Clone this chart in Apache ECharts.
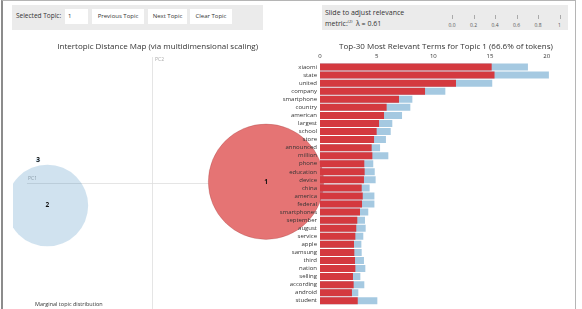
<!DOCTYPE html>
<html>
<head>
<meta charset="utf-8">
<script src="https://cdn.jsdelivr.net/npm/echarts@6/dist/echarts.min.js"></script>
<style>
  body { margin: 0; background: #fff; font-family: "Open Sans", sans-serif; color: #333; }
  #frame { position: absolute; left: 1px; top: 0; width: 575px; height: 320px;
    border-left: 2px solid #8c8c8c; border-top: 1px solid #b5b5b5; border-right: 1px solid #b5b5b5; box-sizing: border-box; }
  .box { position: absolute; top: 5px; height: 25px; background: #ebebeb; }
  .btn { position: absolute; top: 4px; height: 15px; background: #fff; font-size: 6px; line-height: 15px; text-align: center; }
  .tick { position: absolute; top: 10px; width: 1px; height: 4px; background: #aaa; }
  .tl { position: absolute; top: 17px; width: 20px; margin-left: -10px; text-align: center; font-size: 5px; color: #555; }
  #chart { position: absolute; left: 13px; top: 34px; width: 563px; height: 275px; }
</style>
</head>
<body>
<div id="frame"></div>
<div class="box" style="left:12px; width:251px;">
  <span style="position:absolute; left:4px; top:6px; font-size:6.5px; color:#333;">Selected Topic:</span>
  <div class="btn" style="left:53px; width:23px; text-align:left; padding-left:3px; box-sizing:border-box;">1</div>
  <div class="btn" style="left:80px; width:52px;">Previous Topic</div>
  <div class="btn" style="left:136px; width:39px;">Next Topic</div>
  <div class="btn" style="left:178px; width:42px;">Clear Topic</div>
</div>
<div class="box" id="slider" style="left:322px; width:246px;">
  <span style="position:absolute; left:3px; top:3px; font-size:7px; line-height:9px; color:#333;">Slide to adjust relevance<br>metric:<sup style="font-size:4px;">(2)</sup> &nbsp;λ = 0.61</span>
</div>
<div id="chart"></div>
<script>
// slider scale
const sliderTicks = ["0.0", "0.2", "0.4", "0.6", "0.8", "1"];
const slider = document.getElementById("slider");
sliderTicks.forEach((t, i) => {
  const x = 130 + i * 21.5;
  slider.insertAdjacentHTML("beforeend",
    `<div class="tick" style="left:${x}px"></div><div class="tl" style="left:${x}px">${t}</div>`);
});

// topics (MDS coordinates, share of tokens %)
const topicIds = ["1", "2", "3"];
const topicX = [0.811, -0.754, -0.821];
const topicY = [0.01, -0.179, 0.181];
const topicPct = [66.6, 33.3, 0.1];

// top-30 terms for topic 1
const terms = ["xiaomi", "state", "united", "company", "smartphone", "country", "american",
  "largest", "school", "store", "announced", "million", "phone", "education", "device",
  "china", "america", "federal", "smartphones", "september", "august", "service", "apple",
  "samsung", "third", "nation", "selling", "according", "android", "student"];
const topicFreq = [15.15, 15.4, 12.0, 9.27, 6.97, 5.88, 5.65, 5.21, 5.0, 4.77, 4.56, 4.62,
  3.91, 3.94, 3.88, 3.68, 3.77, 3.71, 3.53, 3.29, 3.2, 3.12, 3.0, 3.03, 3.09, 3.12,
  2.91, 2.97, 2.82, 3.33];
const totalFreq = [18.35, 20.2, 15.2, 11.06, 8.15, 7.97, 7.24, 6.38, 6.24, 5.82, 5.3, 6.03,
  4.7, 4.83, 4.91, 4.38, 4.8, 4.8, 4.26, 3.97, 4.03, 3.82, 3.65, 3.68, 3.88, 4.0,
  3.56, 3.91, 3.38, 5.06];
const freqTicks = [0, 5, 10, 15, 20];

const chart = echarts.init(document.getElementById("chart"));

const circleScale = 115.4 / Math.sqrt(66.6);

chart.setOption({
  animation: false,
  textStyle: { fontFamily: "Open Sans" },
  title: [
    {
      text: "Intertopic Distance Map (via multidimensional scaling)",
      left: 139.7, top: 4, textAlign: "center",
      textStyle: { fontSize: 8, fontWeight: "normal", color: "#333" },
    },
    {
      text: "Top-30 Most Relevant Terms for Topic 1 (66.6% of tokens)",
      left: 428, top: 4, textAlign: "center",
      textStyle: { fontSize: 8, fontWeight: "normal", color: "#333" },
    },
    {
      text: "Marginal topic distribution",
      left: 17, top: 262,
      textStyle: { fontSize: 5.5, fontWeight: "normal", color: "#333" },
    },
  ],
  grid: [
    { left: 0, top: 23, width: 279.4, height: 254 },
    { left: 307, top: 29, width: 228.9, height: 241.8 },
  ],
  xAxis: [
    { gridIndex: 0, type: "value", min: -1, max: 1, show: false },
    {
      gridIndex: 1, type: "value", position: "top", min: 0, max: 20.2, interval: 5,
      axisLine: { show: false }, axisTick: { show: false }, splitLine: { show: false },
      axisLabel: {
        fontSize: 6, color: "#333", margin: 4,
        formatter: v => (freqTicks.includes(v) ? String(v) : ""),
      },
    },
  ],
  yAxis: [
    { gridIndex: 0, type: "value", min: -1, max: 1, show: false },
    {
      gridIndex: 1, type: "category", data: terms, inverse: true, z: 10,
      axisLine: { show: false }, axisTick: { show: false },
      axisLabel: { fontSize: 6, color: "#333", margin: 3 },
    },
  ],
  series: [
    {
      // PC axes, drawn beneath the topic circles
      type: "line",
      xAxisIndex: 0, yAxisIndex: 0, z: 0,
      data: [],
      markLine: {
        silent: true, symbol: "none", animation: false, z: 0,
        lineStyle: { color: "#dedede", width: 0.8, type: "solid" },
        label: { show: false },
        data: [
          [{ coord: [-0.9, 0] }, { coord: [1, 0] }],
          [{ coord: [0, 1] }, { coord: [0, -1] }],
        ],
      },
    },
    {
      type: "scatter",
      xAxisIndex: 0, yAxisIndex: 0, z: 1,
      data: topicIds.map((id, i) => ({
        value: [topicX[i], topicY[i]],
        name: id,
        symbolSize: circleScale * Math.sqrt(topicPct[i]),
        itemStyle: i === 0
          ? { color: "#e57474", opacity: 1, borderColor: "rgba(140,50,50,0.4)", borderWidth: 0.6 }
          : { color: "rgba(31,119,180,0.21)", opacity: 1 },
      })),
      label: {
        show: true, position: "inside", formatter: p => p.name,
        fontSize: 6.5, fontWeight: "bold", color: "#111",
      },
    },
    {
      type: "bar",
      xAxisIndex: 1, yAxisIndex: 1,
      data: totalFreq,
      barWidth: 7,
      barGap: "-100%",
      itemStyle: { color: "rgba(31,119,180,0.4)" },
    },
    {
      type: "bar",
      xAxisIndex: 1, yAxisIndex: 1,
      data: topicFreq,
      barWidth: 7,
      barGap: "-100%",
      itemStyle: { color: "#d4393f" },
    },
  ],
  graphic: [
    { type: "text", left: 15, top: 142, style: { text: "PC1", fontSize: 5, fill: "#aaa", fontFamily: "Open Sans" } },
    { type: "text", left: 142, top: 23, style: { text: "PC2", fontSize: 5, fill: "#aaa", fontFamily: "Open Sans" } },
  ],
});
</script>
</body>
</html>
